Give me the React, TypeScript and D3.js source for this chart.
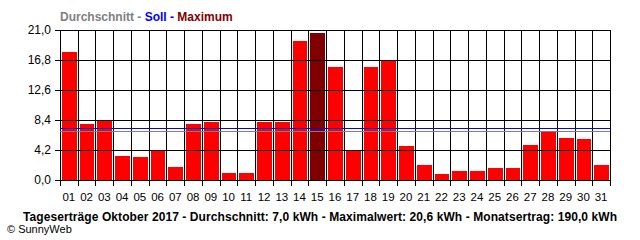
import React from "react";
import * as d3 from "d3";

const days = ["01","02","03","04","05","06","07","08","09","10","11","12","13","14","15","16","17","18","19","20","21","22","23","24","25","26","27","28","29","30","31"];
const yields = [17.9,7.8,8.4,3.4,3.2,4.2,1.8,7.8,8.1,1.0,1.0,8.1,8.1,19.5,20.6,15.8,4.1,15.8,16.8,4.7,2.1,0.9,1.3,1.3,1.7,1.7,4.9,6.8,5.9,5.7,2.1];
const yTicks = [0, 4.2, 8.4, 12.6, 16.8, 21.0];
const averageValue = [6.9];
const targetValue = [7.35];
const legendParts = [
  { text: "Durchschnitt - ", color: "#808080" },
  { text: "Soll - ", color: "#0000ff" },
  { text: "Maximum", color: "#800000" },
];
const titleText = "Tageserträge Oktober 2017 - Durchschnitt: 7,0 kWh - Maximalwert: 20,6 kWh - Monatsertrag: 190,0 kWh";
const creditText = "© SunnyWeb";

export default function App() {
  const W = 640, H = 240;
  const left = 60, right = 610, top = 30, bottom = 180;
  const x = d3.scaleBand<string>().domain(days).range([left, right]).padding(0);
  const y = d3.scaleLinear().domain([0, 21]).range([bottom, top]);
  const maxV = d3.max(yields) as number;
  const fmt = (v: number) => v.toFixed(1).replace(".", ",");
  const cx = (v: number) => Math.round(v) + 0.5;
  const cy = (v: number) => Math.round(v) + 0.5;
  const boundaries = days.map((d) => x(d) as number).concat([right]);

  return (
    <svg width={W} height={H} style={{ position: "absolute", left: 0, top: 0, background: "#fff" }}
      fontFamily="'Liberation Sans', Arial, sans-serif">
      <rect x={0} y={0} width={W} height={H} fill="#fff" />
      {/* legend header */}
      <text x={left} y={21} fontSize={12} fontWeight="bold">
        {legendParts.map((p, i) => (
          <tspan key={i} fill={p.color}>{p.text}</tspan>
        ))}
      </text>
      {/* bars */}
      {yields.map((v, i) => {
        const x0 = Math.round(x(days[i]) as number) + 2;
        const x1 = Math.round((x(days[i]) as number) + x.bandwidth()) - 1;
        const yt = Math.round(y(v));
        return (
          <rect key={i} x={x0} y={yt} width={x1 - x0} height={bottom - yt}
            fill={v === maxV ? "#800000" : "#ff0000"} shapeRendering="crispEdges" />
        );
      })}
      {/* horizontal grid + y ticks */}
      {yTicks.map((t, i) => (
        <g key={i}>
          <line x1={left - 5} x2={right} y1={cy(y(t))} y2={cy(y(t))} stroke="#000" strokeWidth={1} shapeRendering="crispEdges" />
          <text x={51} y={y(t)} dy="0.35em" textAnchor="end" fontSize={12} fill="#000">{fmt(t)}</text>
        </g>
      ))}
      {/* vertical grid + x ticks */}
      {boundaries.map((b, i) => (
        <line key={i} x1={cx(b)} x2={cx(b)} y1={top} y2={bottom + 6} stroke="#000" strokeWidth={1} shapeRendering="crispEdges" />
      ))}
      {/* x labels */}
      {days.map((d, i) => (
        <text key={i} x={(x(d) as number) + x.bandwidth() / 2} y={197} dy="0.35em" textAnchor="middle" fontSize={11.5} fill="#000">{d}</text>
      ))}
      {/* target & average lines */}
      {targetValue.map((v, i) => (
        <line key={"s" + i} x1={left} x2={right} y1={cy(y(v))} y2={cy(y(v))} stroke="#0000ff" strokeWidth={1} shapeRendering="crispEdges" />
      ))}
      {averageValue.map((v, i) => (
        <line key={"a" + i} x1={left} x2={right} y1={cy(y(v))} y2={cy(y(v))} stroke="#808080" strokeWidth={1} shapeRendering="crispEdges" />
      ))}
      {/* title */}
      <text x={320} y={221} textAnchor="middle" fontSize={12} fontWeight="bold" fill="#000" textLength={594} lengthAdjust="spacing">{titleText}</text>
      <text x={7} y={233} fontSize={11} fill="#000">{creditText}</text>
    </svg>
  );
}
